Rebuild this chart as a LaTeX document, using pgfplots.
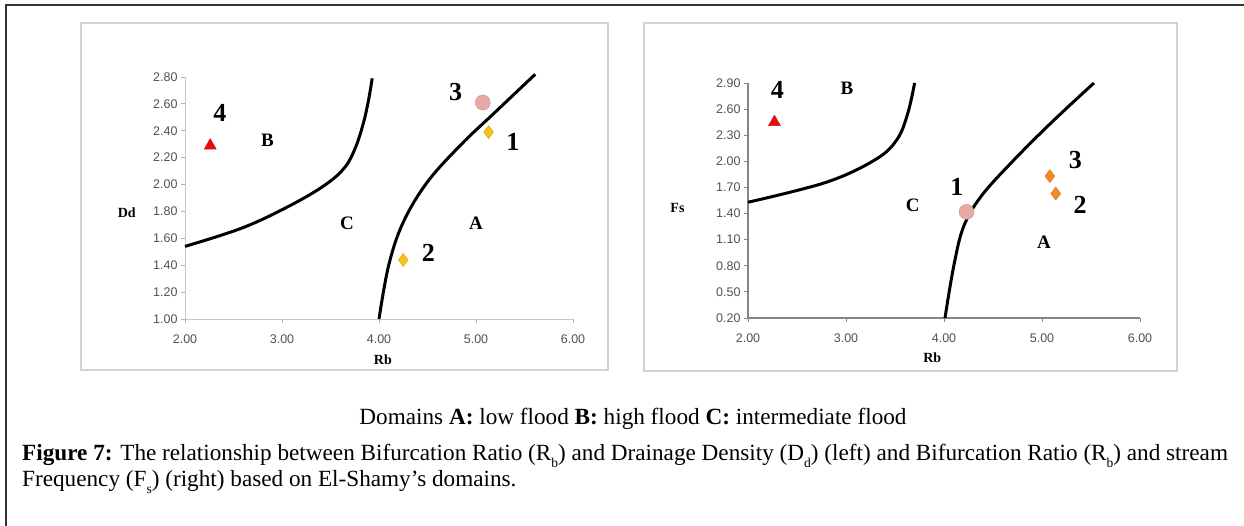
\documentclass[border=0pt]{standalone}
\usepackage{fontspec}
\setmainfont{Liberation Serif}
\newfontfamily\arialf{Liberation Sans}
\usepackage{pgfplots}
\pgfplotsset{compat=1.18}
\definecolor{panelgray}{HTML}{D2D2D2}
\definecolor{triR}{HTML}{E01010}
\definecolor{circF}{HTML}{E9A9A6}
\definecolor{circD}{HTML}{D08C88}
\definecolor{yelF}{HTML}{F7C21B}
\definecolor{yelD}{HTML}{E39A00}
\definecolor{orF}{HTML}{F08A2A}
\definecolor{orD}{HTML}{D96C10}
\newcommand\sub[1]{\raisebox{-0.32em}{\fontsize{13.5}{13.5}\selectfont #1}}
\pgfplotsset{
  elshamy/.style={
    scale only axis,
    axis lines=left,
    axis line style={-},
    tick align=outside,
    major tick length=4pt,
    xmin=2, xmax=6,
    xtick={2,3,4,5,6},
    ticklabel style={font=\arialf\fontsize{12.5}{12.5}\selectfont, text=black!68},
    xticklabel style={yshift=-8pt},
    /pgf/number format/.cd, fixed, fixed zerofill, precision=2, assume math mode=true,
    /pgfplots/.cd,
    clip=false,
  },
  bnd/.style={black, line width=3pt, smooth, tension=0.6, no marks},
}
\tikzset{
  lab/.style={font=\bfseries\fontsize{26}{26}\selectfont},
  dom/.style={font=\bfseries\fontsize{19}{19}\selectfont},
  ttl/.style={font=\bfseries\fontsize{14}{14}\selectfont},
  captxt/.style={inner sep=0pt, font=\fontsize{23.2}{26}\selectfont},
}
\begin{document}
\begin{tikzpicture}[x=1pt,y=1pt]
\useasboundingbox (0,0) rectangle (1244,-526);
\fill[white] (0,0) rectangle (1244,-526);
\draw[line width=2pt, black!80] (6,-530) -- (6,-5) -- (1250,-5);
\draw[line width=2.2pt, panelgray] (81,-23) rectangle (608,-370);
\draw[line width=2.2pt, panelgray] (644,-23) rectangle (1177,-371);

% ---------- left chart: Rb vs Dd ----------
\begin{axis}[elshamy,
  at={(185pt,-319pt)}, anchor=south west,
  width=388pt, height=242pt,
  ymin=1, ymax=2.8,
  ytick={1,1.2,1.4,1.6,1.8,2,2.2,2.4,2.6,2.8},
  axis line style={draw=black!22, line width=1pt},
  tick style={draw=black!30, line width=0.8pt},
]
\addplot[bnd] coordinates {(2.00,1.54) (2.60,1.68) (3.10,1.85) (3.45,2.00) (3.65,2.13) (3.76,2.28) (3.84,2.46) (3.89,2.62) (3.93,2.79)};
\addplot[bnd] coordinates {(4.00,1.00) (4.10,1.40) (4.25,1.72) (4.50,2.02) (4.85,2.30) (5.20,2.54) (5.61,2.82)};
\addplot[only marks, mark=triangle*, mark size=7pt, mark options={fill=triR, draw=triR}] coordinates {(2.26,2.29)};
\addplot[only marks, mark=*, mark size=7.5pt, mark options={fill=circF, draw=circD}] coordinates {(5.07,2.61)};
\addplot[only marks, mark=diamond*, mark size=6.5pt, mark options={fill=yelF, draw=yelD}] coordinates {(5.13,2.39) (4.25,1.44)};
\node[lab] at (axis cs:2.36,2.53) {4};
\node[lab] at (axis cs:4.79,2.69) {3};
\node[lab] at (axis cs:5.38,2.32) {1};
\node[lab] at (axis cs:4.51,1.49) {2};
\node[dom] at (axis cs:2.85,2.33) {B};
\node[dom] at (axis cs:3.67,1.71) {C};
\node[dom] at (axis cs:5.00,1.71) {A};
\node[ttl] at (axis description cs:-0.15,0.44) {Dd};
\node[ttl] at (axis description cs:0.51,-0.17) {Rb};
\end{axis}

% ---------- right chart: Rb vs Fs ----------
\begin{axis}[elshamy,
  at={(748pt,-318pt)}, anchor=south west,
  width=392pt, height=235pt,
  ymin=0.2, ymax=2.9,
  ytick={0.2,0.5,0.8,1.1,1.4,1.7,2.0,2.3,2.6,2.9},
  axis line style={draw=black!48, line width=1.4pt},
  tick style={draw=black!48, line width=0.8pt},
]
\addplot[bnd] coordinates {(2.00,1.53) (2.80,1.76) (3.30,2.02) (3.52,2.25) (3.63,2.55) (3.70,2.90)};
\addplot[bnd] coordinates {(4.01,0.20) (4.10,0.80) (4.20,1.25) (4.38,1.60) (4.70,2.00) (5.10,2.45) (5.53,2.90)};
\addplot[only marks, mark=triangle*, mark size=7pt, mark options={fill=triR, draw=triR}] coordinates {(2.27,2.45)};
\addplot[only marks, mark=*, mark size=7.5pt, mark options={fill=circF, draw=circD}] coordinates {(4.23,1.42)};
\addplot[only marks, mark=diamond*, mark size=6.5pt, mark options={fill=orF, draw=orD}] coordinates {(5.14,1.63) (5.08,1.83)};
\node[lab] at (axis cs:2.30,2.82) {4};
\node[lab] at (axis cs:4.13,1.71) {1};
\node[lab] at (axis cs:5.34,2.02) {3};
\node[lab] at (axis cs:5.39,1.50) {2};
\node[dom] at (axis cs:3.01,2.84) {B};
\node[dom] at (axis cs:3.68,1.50) {C};
\node[dom] at (axis cs:5.02,1.07) {A};
\node[ttl] at (axis description cs:-0.18,0.47) {Fs};
\node[ttl] at (axis description cs:0.47,-0.17) {Rb};
\end{axis}

% ---------- captions ----------
\node[captxt, anchor=base] at (633,-424) {Domains \textbf{A:} low flood \textbf{B:} high flood \textbf{C:} intermediate flood};
\node[captxt, anchor=base west] at (22,-460) {\textbf{Figure 7:} The relationship between Bifurcation Ratio (R\sub{b}) and Drainage Density (D\sub{d}) (left) and Bifurcation Ratio (R\sub{b}) and stream};
\node[captxt, anchor=base west] at (22,-486) {Frequency (F\sub{s}) (right) based on El-Shamy’s domains.};
\end{tikzpicture}
\end{document}
